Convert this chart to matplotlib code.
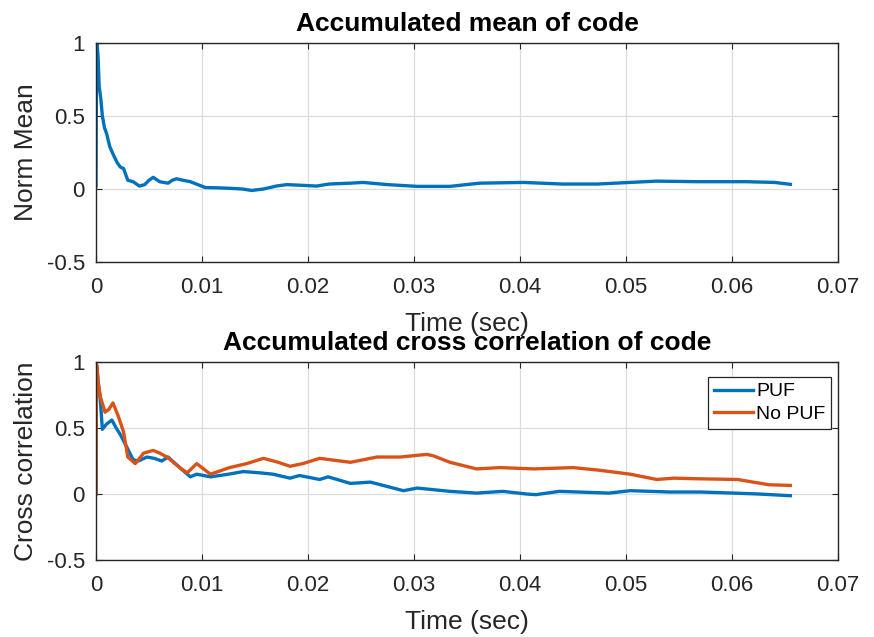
import matplotlib
matplotlib.use("Agg")
import matplotlib.pyplot as plt
from matplotlib.ticker import FuncFormatter

plt.rcParams['font.family'] = ['Liberation Sans', 'DejaVu Sans']

# accumulated mean of code (top panel)
T_MEAN = [0, 0.00005, 0.0001, 0.0002, 0.0003, 0.00045, 0.0006, 0.0008, 0.001, 0.0013,
          0.0016, 0.002, 0.0023, 0.0026, 0.003, 0.0035, 0.0041, 0.0046, 0.005, 0.0054,
          0.006, 0.0068, 0.0072, 0.0076, 0.0082, 0.0089, 0.0096, 0.0103, 0.0115, 0.0126,
          0.0138, 0.0147, 0.0158, 0.017, 0.018, 0.0195, 0.0208, 0.022, 0.024, 0.0252,
          0.0275, 0.0303, 0.0334, 0.0362, 0.0403, 0.044, 0.0473, 0.0504, 0.0529, 0.0567,
          0.0614, 0.064, 0.0655]
MEAN = [0.02, 0.98, 1.0, 0.9, 0.7, 0.62, 0.5, 0.42, 0.38, 0.29,
        0.24, 0.18, 0.15, 0.14, 0.06, 0.05, 0.02, 0.03, 0.06, 0.08,
        0.05, 0.04, 0.06, 0.07, 0.06, 0.05, 0.03, 0.01, 0.008, 0.005,
        0.0, -0.01, 0.0, 0.02, 0.03, 0.025, 0.02, 0.034, 0.04, 0.045,
        0.03, 0.018, 0.018, 0.04, 0.045, 0.034, 0.034, 0.045, 0.054, 0.05,
        0.05, 0.045, 0.032]

# accumulated cross correlation (bottom panel)
T_PUF = [0, 0.00005, 0.0001, 0.0002, 0.0004, 0.0006, 0.001, 0.0015, 0.0019, 0.0023,
         0.003, 0.0035, 0.004, 0.0048, 0.0055, 0.0062, 0.0068, 0.0079, 0.0089, 0.0095,
         0.0108, 0.0125, 0.0139, 0.0155, 0.0167, 0.0183, 0.0192, 0.0211, 0.0219, 0.024,
         0.0259, 0.029, 0.0303, 0.0334, 0.0359, 0.0384, 0.0406, 0.0415, 0.0437, 0.0484,
         0.0504, 0.0542, 0.057, 0.0601, 0.0625, 0.0655]
PUF = [0.0, 0.98, 0.95, 0.85, 0.72, 0.49, 0.53, 0.56, 0.5, 0.45,
       0.34, 0.26, 0.25, 0.28, 0.27, 0.25, 0.28, 0.20, 0.13, 0.15,
       0.13, 0.15, 0.17, 0.16, 0.15, 0.12, 0.14, 0.11, 0.13, 0.08,
       0.09, 0.025, 0.045, 0.02, 0.007, 0.02, 0.0, -0.005, 0.02, 0.007,
       0.025, 0.015, 0.015, 0.007, 0.0, -0.013]

T_NOPUF = [0, 0.00005, 0.0001, 0.0002, 0.0004, 0.00085, 0.0012, 0.0016, 0.0021, 0.0026,
           0.003, 0.0037, 0.0045, 0.0054, 0.006, 0.0067, 0.0079, 0.0086, 0.0095, 0.0108,
           0.0126, 0.0142, 0.0158, 0.0172, 0.0183, 0.0195, 0.0211, 0.024, 0.0265, 0.0287,
           0.0312, 0.0318, 0.0334, 0.0359, 0.0381, 0.0413, 0.045, 0.0475, 0.0504, 0.0529,
           0.0545, 0.057, 0.0605, 0.0635, 0.0655]
NOPUF = [0.0, 0.98, 0.95, 0.85, 0.74, 0.62, 0.64, 0.69, 0.59, 0.47,
         0.28, 0.23, 0.31, 0.33, 0.31, 0.28, 0.20, 0.16, 0.23, 0.15,
         0.20, 0.23, 0.27, 0.24, 0.21, 0.23, 0.27, 0.24, 0.28, 0.28,
         0.30, 0.29, 0.24, 0.19, 0.20, 0.19, 0.20, 0.18, 0.15, 0.11,
         0.12, 0.115, 0.11, 0.07, 0.065]

XTICKS = [0, 0.01, 0.02, 0.03, 0.04, 0.05, 0.06, 0.07]
YTICKS = [-0.5, 0, 0.5, 1]

BLUE = '#0072BD'
ORANGE = '#D95319'
DARK = '#262626'

W, H = 874, 637
fig = plt.figure(figsize=(W / 100, H / 100), dpi=100)
ax1 = fig.add_axes([96 / W, (H - 262) / H, 742 / W, 219 / H])
ax2 = fig.add_axes([96 / W, (H - 560) / H, 742 / W, 198 / H])


def fmt(v, pos):
    return f"{v:g}"


def style(ax, title, ylabel):
    ax.set_xlim(0, 0.07)
    ax.set_ylim(-0.5, 1)
    ax.set_xticks(XTICKS)
    ax.set_yticks(YTICKS)
    ax.xaxis.set_major_formatter(FuncFormatter(fmt))
    ax.yaxis.set_major_formatter(FuncFormatter(fmt))
    ax.grid(True, color='#dcdcdc', linewidth=0.9)
    ax.set_axisbelow(True)
    for s in ax.spines.values():
        s.set_color(DARK)
        s.set_linewidth(1.0)
    ax.tick_params(direction='in', length=4, width=0.8, colors=DARK,
                   labelsize=16, top=True, right=True)
    ax.tick_params(axis='x', pad=11)
    ax.tick_params(axis='y', pad=8)
    ax.set_title(title, fontsize=19, fontweight='bold', pad=9)
    ax.set_xlabel('Time (sec)', fontsize=19, color=DARK, labelpad=10)
    ax.set_ylabel(ylabel, fontsize=19, color=DARK, labelpad=6)


ax1.plot(T_MEAN, MEAN, color=BLUE, linewidth=2.4)
style(ax1, 'Accumulated mean of code', 'Norm Mean')

ax2.plot(T_PUF, PUF, color=BLUE, linewidth=2.4, label='PUF')
ax2.plot(T_NOPUF, NOPUF, color=ORANGE, linewidth=2.4, label='No PUF')
style(ax2, 'Accumulated cross correlation of code', 'Cross correlation')
leg = ax2.legend(loc='upper right', bbox_to_anchor=(0.9906, 0.924), borderaxespad=0,
                 fontsize=14, fancybox=False, framealpha=1, edgecolor=DARK,
                 handlelength=2.0, handletextpad=0.15, borderpad=0.3, labelspacing=0.25)
leg.get_frame().set_linewidth(0.9)

fig.savefig('out.png', dpi=100)
